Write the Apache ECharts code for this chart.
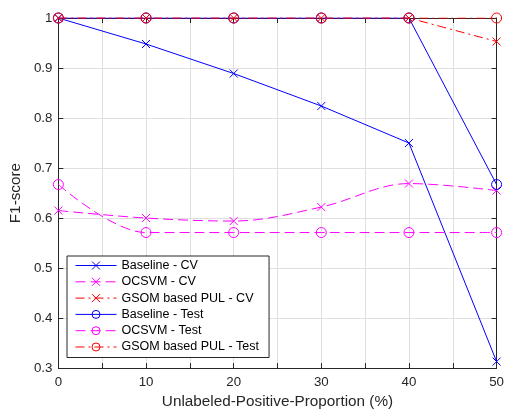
<!DOCTYPE html>
<html>
<head>
<meta charset="utf-8">
<script src="https://cdn.jsdelivr.net/npm/echarts@6/dist/echarts.min.js"></script>
<style>
  html, body { margin: 0; padding: 0; background: #fff; }
  #main { width: 507px; height: 414px; }
</style>
</head>
<body>
<div id="main"></div>
<script>
// data
var proportions = [0, 10, 20, 30, 40, 50];
var baselineCV = [1, 0.948, 0.889, 0.824, 0.75, 0.313];
var ocsvmCV = [0.615, 0.6, 0.594, 0.622, 0.669, 0.655];
var gsomCV = [1, 1, 1, 1, 1, 0.953];
var baselineTest = [1, 1, 1, 1, 1, 0.667];
var ocsvmTest = [0.667, 0.571, 0.571, 0.571, 0.571, 0.571];
var gsomTest = [1, 1, 1, 1, 1, 1];

var myChart = echarts.init(document.getElementById('main'));

var crossMark = 'path://M0,0L10,10M10,0L0,10';
var axisColor = '#262626';
var font = 'Liberation Sans, Arial, sans-serif';

function pairs(vals) {
    return proportions.map(function (x, i) { return [x, vals[i]]; });
}

// one line series, markers drawn as outlines only (matlab style)
function makeSeries(name, vals, color, dash, marker, smooth) {
    return {
        name: name,
        type: 'line',
        data: pairs(vals),
        smooth: smooth || false,
        symbol: marker == 'x' ? crossMark : 'circle',
        symbolSize: marker == 'x' ? 8 : 10,
        showAllSymbol: true,
        animation: false,
        lineStyle: { color: color, width: 1, type: dash },
        itemStyle: { color: 'rgba(0,0,0,0)', borderColor: color, borderWidth: 1 },
        emphasis: { disabled: true }
    };
}

var option = {
    backgroundColor: '#fff',
    animation: false,
    grid: { left: 54, right: 7, top: 18, bottom: 43 },
    legend: {
        orient: 'vertical',
        left: 67,
        top: 256,
        padding: [3, 10, 4, 8],
        itemWidth: 41,
        itemHeight: 10,
        itemGap: 3.3,
        borderColor: axisColor,
        borderWidth: 1,
        backgroundColor: '#fff',
        lineStyle: { width: 1 },
        itemStyle: { borderWidth: 1 },
        textStyle: { fontFamily: font, fontSize: 12.5, color: '#000' },
        data: ['Baseline - CV', 'OCSVM - CV', 'GSOM based PUL - CV',
               'Baseline - Test', 'OCSVM - Test', 'GSOM based PUL - Test']
    },
    xAxis: [
        {
            type: 'value', min: 0, max: 50, interval: 5,
            name: 'Unlabeled-Positive-Proportion (%)',
            nameLocation: 'middle', nameGap: 23,
            nameTextStyle: { fontFamily: font, fontSize: 15.3, color: axisColor },
            axisLine: { show: true, onZero: false, lineStyle: { color: axisColor, width: 1 } },
            axisTick: { show: true, inside: true, length: 5, lineStyle: { color: axisColor } },
            axisLabel: {
                fontFamily: font, fontSize: 13.3, color: axisColor, margin: 8,
                formatter: function (v) { return v % 10 === 0 ? String(v) : ''; }
            },
            splitLine: { show: true, lineStyle: { color: '#dfdfdf', width: 1 } }
        },
        {
            type: 'value', min: 0, max: 50, interval: 5, position: 'top',
            axisLine: { show: true, onZero: false, lineStyle: { color: axisColor, width: 1 } },
            axisTick: { show: true, inside: true, length: 5, lineStyle: { color: axisColor } },
            axisLabel: { show: false },
            splitLine: { show: false }
        }
    ],
    yAxis: [
        {
            type: 'value', min: 0.3, max: 1, interval: 0.1,
            name: 'F1-score',
            nameLocation: 'middle', nameGap: 30,
            nameTextStyle: { fontFamily: font, fontSize: 15.3, color: axisColor },
            axisLine: { show: true, onZero: false, lineStyle: { color: axisColor, width: 1 } },
            axisTick: { show: true, inside: true, length: 5, lineStyle: { color: axisColor } },
            axisLabel: {
                fontFamily: font, fontSize: 13.3, color: axisColor, margin: 6,
                formatter: function (v) { return String(Math.round(v * 10) / 10); }
            },
            splitLine: { show: true, lineStyle: { color: '#dfdfdf', width: 1 } }
        },
        {
            type: 'value', min: 0.3, max: 1, interval: 0.1, position: 'right',
            axisLine: { show: true, onZero: false, lineStyle: { color: axisColor, width: 1 } },
            axisTick: { show: true, inside: true, length: 5, lineStyle: { color: axisColor } },
            axisLabel: { show: false },
            splitLine: { show: false }
        }
    ],
    series: [
        makeSeries('Baseline - CV', baselineCV, '#0000ff', 'solid', 'x'),
        makeSeries('OCSVM - CV', ocsvmCV, '#ff00ff', [10, 5], 'x', 0.35),
        makeSeries('GSOM based PUL - CV', gsomCV, '#ff0000', [9, 4, 2, 4], 'x'),
        makeSeries('Baseline - Test', baselineTest, '#0000ff', 'solid', 'o'),
        makeSeries('OCSVM - Test', ocsvmTest, '#ff00ff', [10, 5], 'o', 0.35),
        makeSeries('GSOM based PUL - Test', gsomTest, '#ff0000', [9, 4, 2, 4], 'o')
    ]
};

myChart.setOption(option);
</script>
</body>
</html>
